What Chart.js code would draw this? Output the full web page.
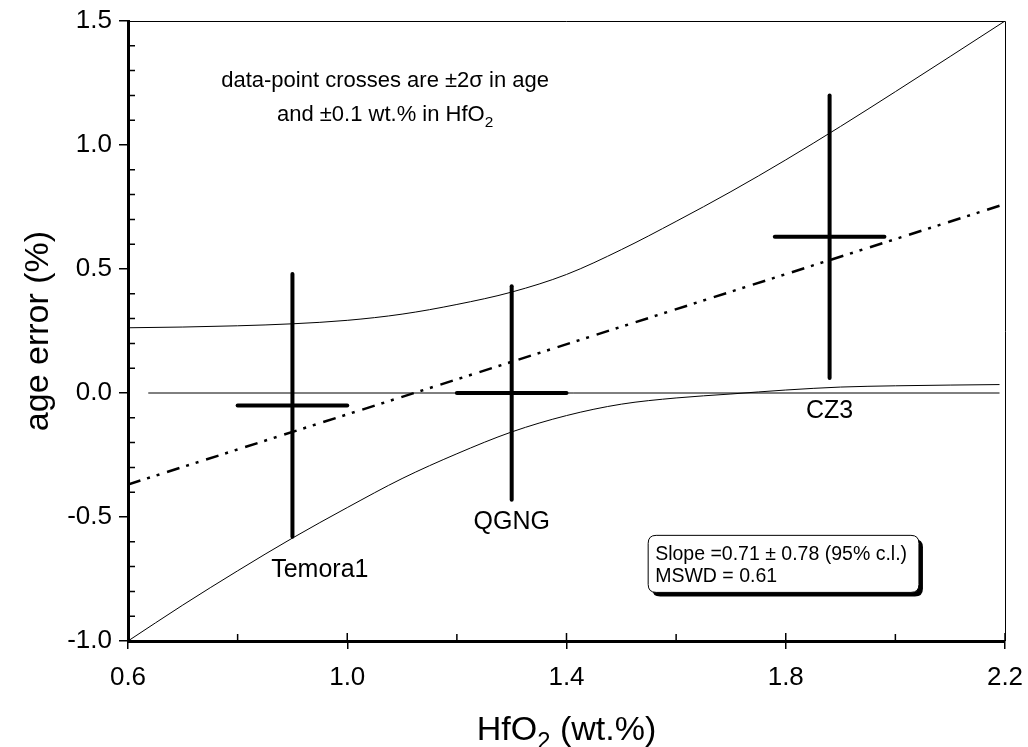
<!DOCTYPE html>
<html><head><meta charset="utf-8">
<script src="https://cdn.jsdelivr.net/npm/chart.js@4.4.1/dist/chart.umd.min.js"></script>
<style>html,body{margin:0;padding:0;background:#fff;}#wrap{width:1028px;height:747px;}</style>
</head><body><div id="wrap"><canvas id="c" width="1028" height="747"></canvas></div>
<script>
// ---- data ----
const sampleNames = ['Temora1', 'QGNG', 'CZ3'];
const hfo2 = [0.9, 1.3, 1.88];
const ageError = [-0.05, 0.0, 0.63];
const ageError2s = [0.53, 0.43, 0.57];
const hfo2Err = [0.1, 0.1, 0.1];

const upperX = [0.6, 0.7, 0.8, 0.9, 1.0, 1.1, 1.2, 1.3, 1.4, 1.5, 1.6, 1.7, 1.8, 1.9, 2.0, 2.1, 2.2];
const upperY = [0.263, 0.266, 0.271, 0.279, 0.293, 0.318, 0.357, 0.407, 0.478, 0.578, 0.692, 0.812, 0.94, 1.075, 1.215, 1.357, 1.5];
const lowerX = [0.6, 0.7, 0.8, 0.9, 1.0, 1.1, 1.2, 1.3, 1.4, 1.5, 1.6, 1.7, 1.8, 1.9, 2.0, 2.1, 2.19];
const lowerY = [-1.0, -0.855, -0.717, -0.585, -0.462, -0.345, -0.245, -0.157, -0.091, -0.045, -0.02, -0.004, 0.012, 0.024, 0.029, 0.032, 0.034];
const fitX = [0.6, 2.2];
const fitY = [-0.369, 0.762];
const zeroX = [0.637, 2.19];
const zeroY = [0, 0];

const xTicks = [0.6, 1.0, 1.4, 1.8, 2.2];
const xMinor = [0.8, 1.2, 1.6, 2.0];
const yTicks = [-1.0, -0.5, 0.0, 0.5, 1.0, 1.5];
const yMinor = [-0.9, -0.8, -0.7, -0.6, -0.4, -0.3, -0.2, -0.1, 0.1, 0.2, 0.3, 0.4, 0.6, 0.7, 0.8, 0.9, 1.1, 1.2, 1.3, 1.4];

const labelX = [0.95, 1.3, 1.88];
const labelY = [-0.715, -0.522, -0.075];

const xTitle = [['HfO', false], ['2', true], [' (wt.%)', false]];
const yTitle = 'age error (%)';
const note1 = [['data-point crosses are \u00b12\u03c3 in age', false]];
const note2 = [['and \u00b10.1 wt.% in HfO', false], ['2', true]];
const noteX = 1.069, note1Y = 1.235, note2Y = 1.095;
const statLines = ['Slope =0.71 \u00b1 0.78 (95% c.l.)', 'MSWD = 0.61'];
const statBox = {x0: 1.549, y0: -0.574, x1: 2.043, y1: -0.804};

const FONT = 'Arial, "Liberation Sans", Helvetica, sans-serif';

// ---- datasets ----
const pts = (xs, ys) => xs.map((v, i) => ({x: v, y: ys[i]}));
const thin = {borderColor: '#000', borderWidth: 1, pointRadius: 0, showLine: true, fill: false};
const datasets = [
  Object.assign({label: 'upper', data: pts(upperX, upperY), cubicInterpolationMode: 'monotone'}, thin),
  Object.assign({label: 'lower', data: pts(lowerX, lowerY), cubicInterpolationMode: 'monotone'}, thin),
  Object.assign({label: 'zero', data: pts(zeroX, zeroY)}, thin),
  {label: 'fit', data: pts(fitX, fitY), borderColor: '#000', borderWidth: 2.5, pointRadius: 0, showLine: true,
   borderDash: [13, 7, 3, 7, 3, 8], fill: false}
];
sampleNames.forEach((n, i) => {
  const arm = {borderColor: '#000', borderWidth: 4, pointRadius: 0, showLine: true, borderCapStyle: 'round', fill: false};
  datasets.push(Object.assign({label: n + ' HfO2', data: [
    {x: hfo2[i] - hfo2Err[i], y: ageError[i]}, {x: hfo2[i] + hfo2Err[i], y: ageError[i]}]}, arm));
  datasets.push(Object.assign({label: n + ' age', data: [
    {x: hfo2[i], y: ageError[i] - ageError2s[i]}, {x: hfo2[i], y: ageError[i] + ageError2s[i]}]}, arm));
});

function richWidth(ctx, parts, size) {
  let w = 0;
  parts.forEach(([t, sub]) => { ctx.font = (sub ? size * 0.7 : size) + 'px ' + FONT; w += ctx.measureText(t).width; });
  return w;
}
function drawRich(ctx, parts, cx, baseY, size) {
  let x = cx - richWidth(ctx, parts, size) / 2;
  ctx.textAlign = 'left'; ctx.textBaseline = 'alphabetic';
  parts.forEach(([t, sub]) => {
    ctx.font = (sub ? size * 0.7 : size) + 'px ' + FONT;
    ctx.fillText(t, x, baseY + (sub ? size * 0.25 : 0));
    x += ctx.measureText(t).width;
  });
}
function rr(ctx, x, y, w, h, r) {
  ctx.beginPath();
  ctx.moveTo(x + r, y); ctx.lineTo(x + w - r, y); ctx.quadraticCurveTo(x + w, y, x + w, y + r);
  ctx.lineTo(x + w, y + h - r); ctx.quadraticCurveTo(x + w, y + h, x + w - r, y + h);
  ctx.lineTo(x + r, y + h); ctx.quadraticCurveTo(x, y + h, x, y + h - r);
  ctx.lineTo(x, y + r); ctx.quadraticCurveTo(x, y, x + r, y); ctx.closePath();
}

const overlay = {
  id: 'overlay',
  afterDraw(chart) {
    const {ctx, chartArea: a, scales: {x, y}} = chart;
    ctx.save();
    ctx.strokeStyle = '#000'; ctx.fillStyle = '#000';
    // top / right frame
    ctx.lineWidth = 1;
    ctx.beginPath();
    ctx.moveTo(a.left, Math.round(a.top) + 0.5);
    ctx.lineTo(Math.round(a.right) + 0.5, Math.round(a.top) + 0.5);
    ctx.lineTo(Math.round(a.right) + 0.5, a.bottom);
    ctx.stroke();
    // inside ticks
    ctx.lineWidth = 1.5;
    ctx.beginPath();
    xMinor.forEach(v => { const p = x.getPixelForValue(v); ctx.moveTo(p, a.bottom); ctx.lineTo(p, a.bottom - 7); });
    xTicks.forEach(v => { const p = x.getPixelForValue(v); ctx.moveTo(p, a.bottom); ctx.lineTo(p, a.bottom - 8); });
    yMinor.forEach(v => { const p = y.getPixelForValue(v); ctx.moveTo(a.left, p); ctx.lineTo(a.left + 7, p); });
    ctx.stroke();
    // point labels
    ctx.font = '25px ' + FONT; ctx.textAlign = 'center'; ctx.textBaseline = 'middle';
    sampleNames.forEach((n, i) => ctx.fillText(n, x.getPixelForValue(labelX[i]), y.getPixelForValue(labelY[i])));
    // note
    drawRich(ctx, note1, x.getPixelForValue(noteX), y.getPixelForValue(note1Y), 22);
    drawRich(ctx, note2, x.getPixelForValue(noteX), y.getPixelForValue(note2Y), 22);
    // stats box
    const bx = x.getPixelForValue(statBox.x0), by = y.getPixelForValue(statBox.y0);
    const bw = x.getPixelForValue(statBox.x1) - bx, bh = y.getPixelForValue(statBox.y1) - by;
    rr(ctx, bx + 4, by + 4, bw, bh, 8); ctx.fill();
    rr(ctx, bx, by, bw, bh, 8); ctx.fillStyle = '#fff'; ctx.fill(); ctx.lineWidth = 1; ctx.stroke();
    ctx.fillStyle = '#000'; ctx.font = '19.5px ' + FONT; ctx.textAlign = 'left'; ctx.textBaseline = 'alphabetic';
    ctx.fillText(statLines[0], bx + 7, by + 25);
    ctx.fillText(statLines[1], bx + 7, by + 47);
    // x title with subscript
    drawRich(ctx, xTitle, (a.left + a.right) / 2, a.bottom + 99, 34);
    ctx.restore();
  }
};

new Chart(document.getElementById('c'), {
  type: 'scatter',
  data: {datasets},
  options: {
    responsive: false, animation: false,
    layout: {padding: {left: 0, right: 23, top: 21, bottom: 0}},
    plugins: {legend: {display: false}, tooltip: {enabled: false}},
    scales: {
      x: {
        type: 'linear', min: 0.6, max: 2.2,
        afterBuildTicks: s => { s.ticks = xTicks.map(v => ({value: v})); },
        afterFit: s => { s.height = 106; s.paddingLeft = 0; s.paddingRight = 0; },
        border: {display: true, color: '#000', width: 3},
        grid: {drawOnChartArea: false, drawTicks: true, tickLength: 8, color: '#000', lineWidth: 1.5},
        ticks: {color: '#000', padding: 13, font: {family: FONT, size: 26}, maxRotation: 0,
                callback: v => Number(v).toFixed(1)},
        title: {display: false}
      },
      y: {
        type: 'linear', min: -1.0, max: 1.5,
        afterBuildTicks: s => { s.ticks = yTicks.map(v => ({value: v})); },
        afterFit: s => { s.width = 128; s.paddingTop = 0; s.paddingBottom = 0; },
        border: {display: true, color: '#000', width: 3},
        grid: {drawOnChartArea: false, drawTicks: true, tickLength: 9, color: '#000', lineWidth: 1.5},
        ticks: {color: '#000', padding: 7, font: {family: FONT, size: 26},
                callback: v => Number(v).toFixed(1)},
        title: {display: true, text: yTitle, color: '#000', font: {family: FONT, size: 34}, padding: {top: 18, bottom: 0}}
      }
    }
  },
  plugins: [overlay]
});
</script></body></html>
